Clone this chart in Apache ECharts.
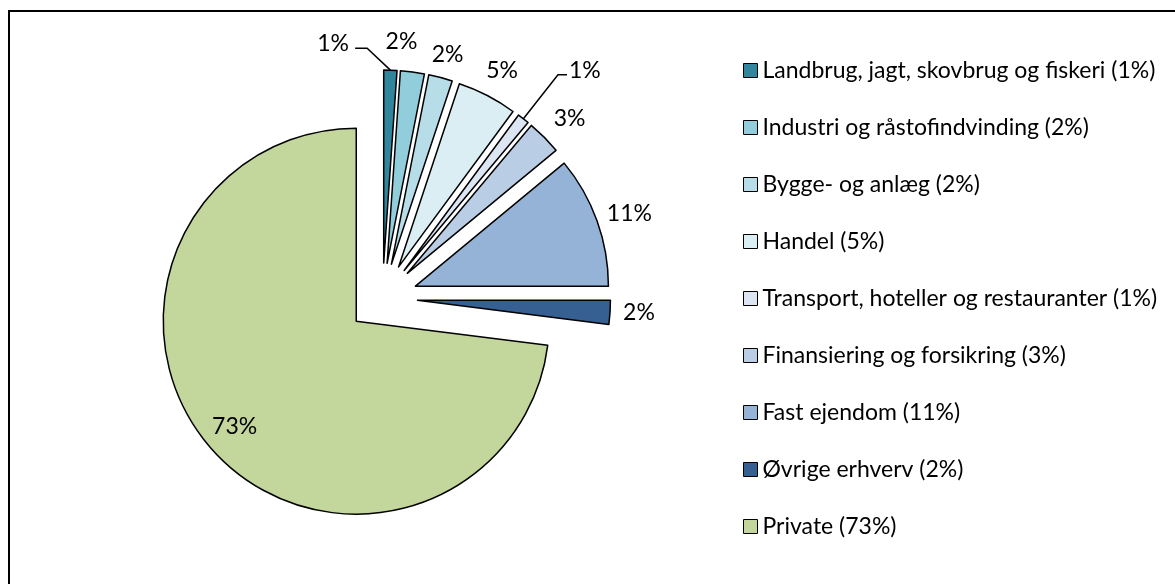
<!DOCTYPE html>
<html>
<head>
<meta charset="utf-8">
<script src="https://cdn.jsdelivr.net/npm/echarts@6/dist/echarts.min.js"></script>
<style>
	html, body { margin: 0; padding: 0; background: #fff; }
	#chart { width: 1175px; height: 584px; }
</style>
</head>
<body>
<div id="chart"></div>
<script>
// slices, clockwise from 12 o'clock
let names = [
	'Landbrug, jagt, skovbrug og fiskeri',
	'Industri og råstofindvinding',
	'Bygge- og anlæg',
	'Handel',
	'Transport, hoteller og restauranter',
	'Finansiering og forsikring',
	'Fast ejendom',
	'Øvrige erhverv',
	'Private'
];
let values = [1.1, 2.0, 2.0, 5.0, 1.0, 2.9, 11.0, 2.0, 73.0];
let colors = ['#31859C', '#92CDDC', '#B7DEE8', '#DAEEF3', '#DCE6F2', '#B9CDE5', '#95B3D7', '#376092', '#C3D69B'];

// label line length / length2 per slice (placement only)
let lineLen = [22, 31, 24, 28, 56, 26, 20, 0, 0];
let lineLen2 = [-36, -36, -20, -19, 9, -14, -14, 8, 0];

let FONT = 'Lato, "Open Sans", sans-serif';

let app = {};

app.init = function () {

	let total = values.reduce(function (a, b) { return a + b; }, 0);
	let pct = {};
	names.forEach(function (n, i) {
		pct[n] = Math.round(values[i] / total * 100);
	});

	let data = names.map(function (n, i) {
		let item = {
			name: n,
			value: values[i],
			selected: true,
			itemStyle: { color: colors[i] },
			labelLine: { show: i === 0 || i === 4, length: lineLen[i], length2: lineLen2[i] }
		};
		if (n === 'Private') {
			item.label = { position: 'inside' };
		}
		if (i === 4) {
			item.label = { distanceToLabelLine: 2 };
		}
		return item;
	});

	app.chart = echarts.init(document.getElementById('chart'));
	app.chart.setOption({
		animation: false,
		graphic: [{
			type: 'rect',
			shape: { x: 9, y: 11, width: 1300, height: 700 },
			style: { fill: 'none', stroke: '#000', lineWidth: 2 },
			silent: true
		}],
		legend: {
			orient: 'vertical',
			left: 738,
			top: 54,
			itemWidth: 14,
			itemHeight: 14,
			itemGap: 34,
			icon: 'rect',
			selectedMode: false,
			itemStyle: { borderColor: '#000', borderWidth: 1 },
			textStyle: { fontFamily: FONT, fontSize: 23, color: '#000' },
			formatter: function (name) {
				return name + ' (' + pct[name] + '%)';
			}
		},
		series: [{
			type: 'pie',
			center: [382.5, 298],
			radius: 193,
			startAngle: 90,
			clockwise: true,
			selectedMode: 'multiple',
			selectedOffset: 35,
			avoidLabelOverlap: false,
			emphasis: { scale: false },
			itemStyle: { borderColor: '#000', borderWidth: 1.5 },
			label: {
				show: true,
				position: 'outside',
				fontFamily: FONT,
				fontSize: 23,
				color: '#000',
				formatter: function (p) {
					return Math.round(p.percent) + '%';
				}
			},
			labelLine: { lineStyle: { color: '#000', width: 1.5 } },
			labelLayout: function (p) {
				if (p.dataIndex === 0) {
					// leader goes up-left, label sits left of it
					let pts = p.labelLinePoints;
					let mid = [pts[2][0] + 12, pts[2][1]];
					return { dx: -43, dy: -5, labelLinePoints: [pts[0], mid, pts[2]] };
				}
				if (p.dataIndex === 4) {
					return { dy: -4 };
				}
				if (p.dataIndex === 8) {
					return { dx: -47, dy: 40 };
				}
			},
			data: data
		}]
	});
};

app.init();
</script>
</body>
</html>
